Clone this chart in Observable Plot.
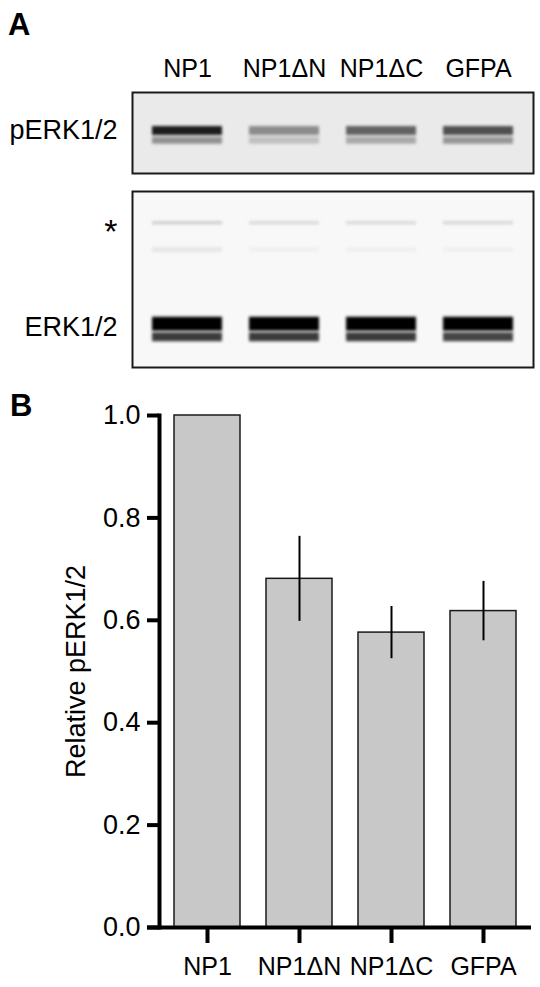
<!DOCTYPE html>
<html><head><meta charset="utf-8">
<script src="https://cdn.jsdelivr.net/npm/d3@7"></script>
<script src="https://cdn.jsdelivr.net/npm/@observablehq/plot@0.6"></script>
<style>
body{margin:0;background:#fff;}
#root{position:relative;width:540px;height:987px;overflow:hidden;font-family:"Liberation Sans",Arial,Helvetica,sans-serif;color:#000;}
.plabel{position:absolute;font-weight:bold;font-size:31px;line-height:31px;}
</style></head><body><div id="root"></div>
<script>
// ---- Data ----
const lanes = ["NP1", "NP1ΔN", "NP1ΔC", "GFPA"];
// Panel A: band intensities read from the blots (0 = no signal, 1 = saturated)
const pErkUpper = [0.88, 0.40, 0.58, 0.66];
const pErkLower = [0.38, 0.18, 0.28, 0.36];
const erkUpper = [1, 1, 1, 1];
const erkLower = [0.76, 0.76, 0.76, 0.72];
const starBand = [0.18, 0.14, 0.14, 0.15];
const faintBand = [0.07, 0.03, 0.03, 0.03];
// relative migration of each band in its strip (0 = top edge, 1 = bottom edge)
const pErkRf = {upper: 0.47, lower: 0.59};
const erkRf = {star: 0.178, faint: 0.33, upper: 0.752, lower: 0.825};
const rowLabelsTop = ["pERK1/2"];
const rowLabelsBottom = ["*", "ERK1/2"];
// Panel B: relative pERK1/2 (mean and error)
const relPERK = [1.0, 0.681, 0.576, 0.618];
const relPERKerr = [0, 0.083, 0.051, 0.058];
const yTicks = [0, 0.2, 0.4, 0.6, 0.8, 1.0];
const yTitle = "Relative pERK1/2";

// ---- Build ----
const font = '"Liberation Sans", Arial, Helvetica, sans-serif';
const root = document.getElementById("root");
function place(el, top) {
  el.style.position = "absolute"; el.style.left = "0px"; el.style.top = top + "px";
  root.appendChild(el);
}
function label(txt, left, top) {
  const d = document.createElement("div");
  d.className = "plabel"; d.textContent = txt;
  d.style.left = left + "px"; d.style.top = top + "px";
  root.appendChild(d);
}
let filterCount = 0;
function blurBands(svg, amount) {
  const ns = "http://www.w3.org/2000/svg";
  const id = "bandblur" + (filterCount++);
  const defs = document.createElementNS(ns, "defs");
  const filter = document.createElementNS(ns, "filter");
  filter.setAttribute("id", id);
  filter.setAttribute("filterUnits", "userSpaceOnUse");
  filter.setAttribute("x", "0"); filter.setAttribute("y", "0");
  filter.setAttribute("width", svg.getAttribute("width")); filter.setAttribute("height", svg.getAttribute("height"));
  const blur = document.createElementNS(ns, "feGaussianBlur");
  blur.setAttribute("stdDeviation", String(amount));
  filter.appendChild(blur); defs.appendChild(filter);
  svg.insertBefore(defs, svg.firstChild);
  svg.querySelectorAll('g[aria-label="tick"]').forEach(g => g.setAttribute("filter", `url(#${id})`));
}
const band = (arr, rf) => lanes.map((lane, i) => ({lane, rf, v: arr[i]}));

const xBlot = {domain: lanes, paddingInner: 0.28, paddingOuter: 0.2, label: null};
const baseStyle = {fontFamily: font, color: "#000", background: "transparent", overflow: "visible"};

// pERK strip
const pPlot = Plot.plot({
  width: 540, height: 180, marginTop: 92, marginBottom: 7, marginLeft: 132, marginRight: 7,
  style: baseStyle,
  x: xBlot,
  y: {domain: [0, 1], reverse: true, axis: null},
  opacity: {domain: [0, 1], range: [0, 1]},
  marks: [
    Plot.frame({fill: "#eaeaea", stroke: null}),
    Plot.tickY(band(pErkLower, pErkRf.lower), {x: "lane", y: "rf", stroke: "#000", strokeOpacity: "v", strokeWidth: 7}),
    Plot.tickY(band(pErkUpper, pErkRf.upper), {x: "lane", y: "rf", stroke: "#000", strokeOpacity: "v", strokeWidth: 9}),
    Plot.frame({stroke: "#1a1a1a", strokeWidth: 2}),
    Plot.axisX({anchor: "top", tickSize: 0, tickPadding: 16, fontSize: 25, label: null}),
    Plot.text(rowLabelsTop, {frameAnchor: "left", y: [pErkRf.upper], text: d => d, dx: -15, textAnchor: "end", fontSize: 27})
  ]
});
blurBands(pPlot, 1.4);
place(pPlot, 0);

// ERK strip
const ePlot = Plot.plot({
  width: 540, height: 200, marginTop: 11, marginBottom: 13, marginLeft: 132, marginRight: 7,
  style: baseStyle,
  x: {...xBlot, axis: null},
  y: {domain: [0, 1], reverse: true, axis: null},
  opacity: {domain: [0, 1], range: [0, 1]},
  marks: [
    Plot.frame({fill: "#f8f8f8", stroke: null}),
    Plot.tickY(band(faintBand, erkRf.faint), {x: "lane", y: "rf", stroke: "#000", strokeOpacity: "v", strokeWidth: 5}),
    Plot.tickY(band(starBand, erkRf.star), {x: "lane", y: "rf", stroke: "#000", strokeOpacity: "v", strokeWidth: 3}),
    Plot.tickY(band(erkLower, erkRf.lower), {x: "lane", y: "rf", stroke: "#000", strokeOpacity: "v", strokeWidth: 9}),
    Plot.tickY(band(erkUpper, erkRf.upper), {x: "lane", y: "rf", stroke: "#000", strokeOpacity: "v", strokeWidth: 14}),
    Plot.frame({stroke: "#1a1a1a", strokeWidth: 2}),
    Plot.text([rowLabelsBottom[0]], {frameAnchor: "left", y: [erkRf.star], text: d => d, dx: -15, dy: 9, textAnchor: "end", fontSize: 34}),
    Plot.text([rowLabelsBottom[1]], {frameAnchor: "left", y: [erkRf.upper], text: d => d, dx: -15, dy: 4, textAnchor: "end", fontSize: 27})
  ]
});
blurBands(ePlot, 1.4);
place(ePlot, 180);

// Panel B bar chart
const bData = lanes.map((name, i) => ({name, value: relPERK[i], err: relPERKerr[i]}));
const bPlot = Plot.plot({
  width: 540, height: 607, marginTop: 35, marginBottom: 60, marginLeft: 159, marginRight: 9,
  style: baseStyle,
  x: {domain: lanes, paddingInner: 0.288, paddingOuter: 0.148, label: null},
  y: {domain: [0, 1], label: null},
  marks: [
    Plot.barY(bData, {x: "name", y: "value", fill: "#c8c8c8", stroke: "#1a1a1a", strokeWidth: 1.5}),
    Plot.ruleX(bData.filter(d => d.err > 0), {x: "name", y1: d => d.value - d.err, y2: d => d.value + d.err, stroke: "#000", strokeWidth: 2}),
    Plot.axisY({ticks: yTicks, tickFormat: d => d.toFixed(1), tickSize: 12, tickPadding: 7, strokeWidth: 4, fontSize: 27, label: null}),
    Plot.axisX({tickSize: 16, tickPadding: 14, strokeWidth: 4, fontSize: 25, label: null}),
    Plot.frame({anchor: "left", stroke: "#000", strokeWidth: 4}),
    Plot.ruleY([0], {stroke: "#000", strokeWidth: 4, insetLeft: -12}),
    Plot.text([yTitle], {frameAnchor: "left", rotate: -90, dx: -94, lineAnchor: "top", textAnchor: "middle", fontSize: 27, text: d => d})
  ]
});
place(bPlot, 380);

label("A", 8, 9);
label("B", 10, 390);
</script></body></html>
